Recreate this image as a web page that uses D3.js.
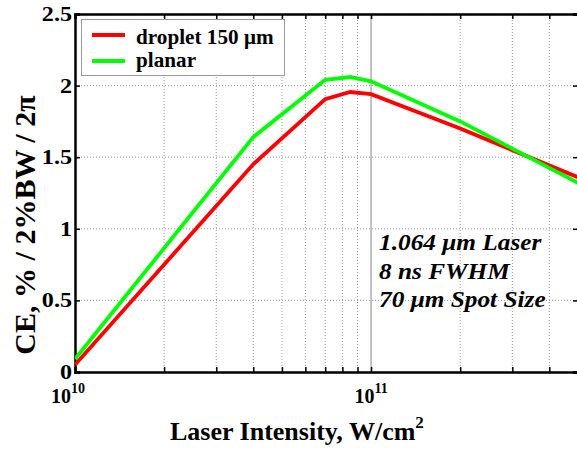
<!DOCTYPE html>
<html><head><meta charset="utf-8">
<script src="https://cdn.jsdelivr.net/npm/d3@7"></script>
<style>body{margin:0;background:#fff}svg{display:block}svg text{font-family:"Liberation Serif","Times New Roman",serif;font-weight:bold}</style>
</head><body>
<svg id="c" width="577" height="449"></svg>
<script>
const intensity = [1e10, 4e10, 7e10, 8.5e10, 1e11, 2e11, 5e11];
const droplet   = [0.05, 1.45, 1.905, 1.955, 1.94, 1.70, 1.36];
const planar    = [0.09, 1.64, 2.04, 2.06, 2.03, 1.75, 1.32];
const seriesNames = ["droplet 150 \u03bcm", "planar"];
const yTicks = [0, 0.5, 1, 1.5, 2, 2.5];
const xMajor = [1e10, 1e11];
const xMinor = [2e10,3e10,4e10,5e10,6e10,7e10,8e10,9e10,2e11,3e11,4e11];
const notes = ["1.064 \u03bcm Laser", "8 ns FWHM", "70 \u03bcm Spot Size"];

const svg = d3.select("#c");
const L = 75, R = 578, T = 14, B = 372;
const x = d3.scaleLog().domain([1e10, 5e11]).range([L, R]);
const y = d3.scaleLinear().domain([0, 2.5]).range([B, T]);

// stretched text helper (reference text is horizontally wide)
function stext(px, py, sx, size, str, anchor) {
  return svg.append("text").attr("transform", `translate(${px},${py}) scale(${sx},1)`)
    .attr("text-anchor", anchor || "start").attr("font-size", size).text(str);
}

const g = svg.append("g");
// grid
g.selectAll(".gy").data(yTicks.filter(d=>d>0)).join("line")
  .attr("x1", L).attr("x2", R).attr("y1", d=>y(d)).attr("y2", d=>y(d))
  .attr("stroke", "#999").attr("stroke-width", 1).attr("stroke-dasharray", "1,2");
g.selectAll(".gx").data(xMinor.concat([1e11])).join("line")
  .attr("x1", d=>x(d)).attr("x2", d=>x(d)).attr("y1", T).attr("y2", B)
  .attr("stroke", d=>d===1e11?"#888":"#999").attr("stroke-width", 1)
  .attr("stroke-dasharray", d=>d===1e11?null:"1,2");

// axes with inward ticks
const allX = xMajor.concat(xMinor);
[[d3.axisBottom(x).tickValues(allX),`translate(0,${B})`],
 [d3.axisTop(x).tickValues(allX),`translate(0,${T})`],
 [d3.axisLeft(y).tickValues(yTicks),`translate(${L},0)`],
 [d3.axisRight(y).tickValues(yTicks),`translate(${R},0)`]].forEach(([a,t])=>{
  const s = svg.append("g").attr("transform", t).call(a.tickSize(-5).tickFormat(""));
  s.select(".domain").attr("stroke","#000").attr("stroke-width",2.5);
  s.selectAll(".tick line").attr("stroke","#000").attr("stroke-width",1.5);
});

// y tick labels
yTicks.forEach(d=>stext(L-3, y(d)+7, 1.15, 21, String(d), "end"));

// x tick labels 10^n
xMajor.forEach(v=>{
  const t = svg.append("text").attr("x", x(v) - (v===1e10?7:0)).attr("y", 403).attr("text-anchor","middle")
    .attr("font-size",20);
  t.append("tspan").text("10");
  t.append("tspan").attr("dy",-10).attr("font-size",14).text(Math.round(Math.log10(v)));
});

// lines
const line = d3.line().x((d,i)=>x(intensity[i])).y(d=>y(d));
const colors = ["#ff0000", "#00ff00"];
svg.append("defs").append("clipPath").attr("id","cp").append("rect")
  .attr("x",L).attr("y",T).attr("width",R-L).attr("height",B-T);
[droplet, planar].forEach((s,i)=>{
  svg.append("path").datum(s).attr("d", line).attr("fill","none")
    .attr("stroke", colors[i]).attr("stroke-width",3.8).attr("clip-path","url(#cp)");
});

// legend
svg.append("rect").attr("x",81.5).attr("y",19.5).attr("width",203).attr("height",56)
  .attr("fill","#fff").attr("stroke","#999").attr("stroke-width",1);
seriesNames.forEach((n,i)=>{
  const yy = 35 + i*26;
  svg.append("line").attr("x1",92).attr("x2",125).attr("y1",yy).attr("y2",yy)
    .attr("stroke",colors[i]).attr("stroke-width",3.8);
  stext(136, [44,67][i], 1.06, 20, n);
});

// annotation
notes.forEach((n,i)=>{
  stext(379, 250+i*28.5, 1.125, 22.5, n).attr("font-style","italic");
});

// axis titles
const xt = svg.append("text").attr("x",170).attr("y",440).attr("text-anchor","start")
  .attr("font-size",26);
xt.append("tspan").text("Laser Intensity, W/cm");
xt.append("tspan").attr("dy",-12).attr("font-size",17).text("2");

svg.append("text").attr("transform","translate(35,225) rotate(-90)").attr("text-anchor","middle")
  .attr("font-size",30)
  .text("CE, % / 2%BW / 2\u03c0");
</script>
</body></html>
